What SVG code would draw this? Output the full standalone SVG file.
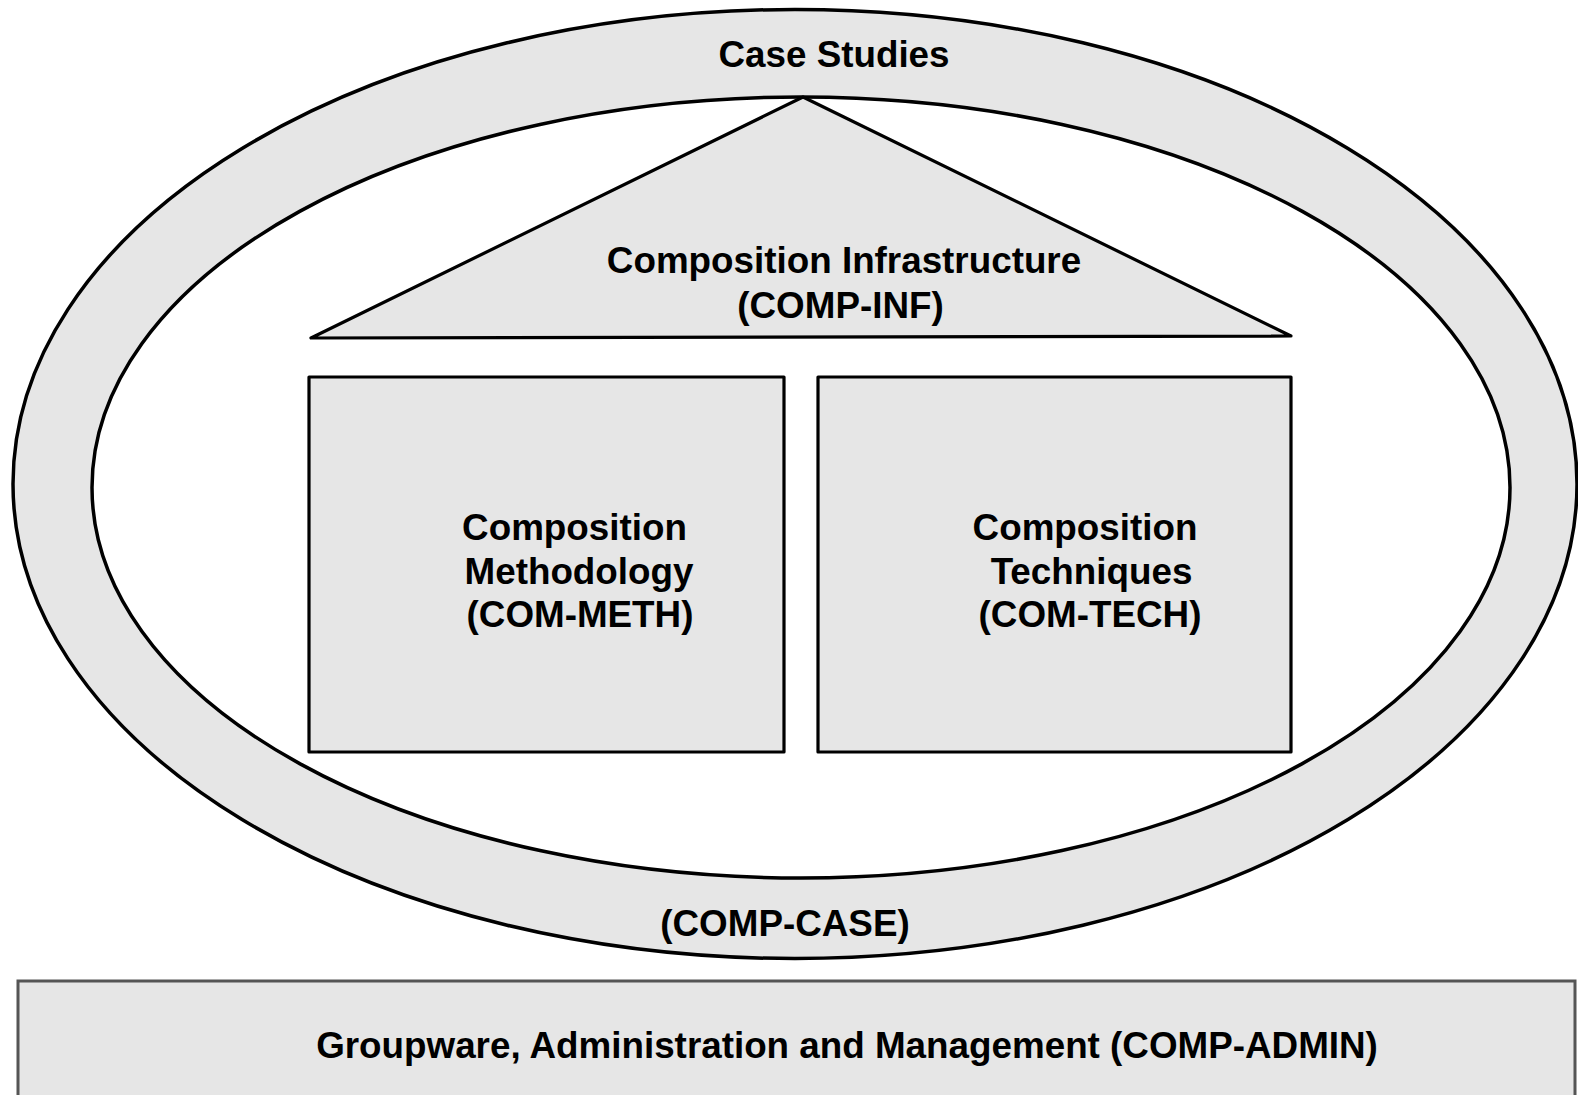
<svg xmlns="http://www.w3.org/2000/svg" width="1578" height="1095" viewBox="0 0 1578 1095">
  <style>
    .shape { fill: #e6e6e6; stroke: #000; stroke-width: 3.2; stroke-linejoin: round; }
    .ring { fill: #e6e6e6; stroke: #000; stroke-width: 3.5; }
    .hole { fill: #ffffff; stroke: #000; stroke-width: 3.5; }
    .admin { fill: #e6e6e6; stroke: #555555; stroke-width: 3; }
    .label { font-family: "Liberation Sans", Arial, Helvetica, sans-serif; font-weight: bold; font-size: 36.8px; fill: #000; text-anchor: middle; }
  </style>
  <rect x="0" y="0" width="1578" height="1095" fill="#ffffff"/>

  <!-- Case studies ring -->
  <g id="comp-case">
    <ellipse class="ring" cx="795" cy="484" rx="782" ry="474.5"/>
    <ellipse class="hole" cx="801" cy="487.5" rx="709" ry="390.5"/>
    <text class="label" x="834" y="67">Case Studies</text>
    <text class="label" x="785" y="936">(COMP-CASE)</text>
  </g>

  <!-- Infrastructure roof -->
  <g id="comp-inf">
    <polygon class="shape" points="803,97 311,338 1291,336"/>
    <text class="label" x="844" y="273">Composition Infrastructure</text>
    <text class="label" x="840.5" y="318">(COMP-INF)</text>
  </g>

  <!-- Methodology pillar -->
  <g id="com-meth">
    <rect class="shape" x="309" y="377" width="475" height="375"/>
    <text class="label" y="540"><tspan x="574.5">Composition</tspan><tspan x="579" y="583.5">Methodology</tspan><tspan x="580" y="627">(COM-METH)</tspan></text>
  </g>

  <!-- Techniques pillar -->
  <g id="com-tech">
    <rect class="shape" x="818" y="377" width="473" height="375"/>
    <text class="label" y="540"><tspan x="1085">Composition</tspan><tspan x="1091.5" y="583.5">Techniques</tspan><tspan x="1090" y="627">(COM-TECH)</tspan></text>
  </g>

  <!-- Administration base -->
  <g id="comp-admin">
    <rect class="admin" x="18" y="981" width="1557" height="130"/>
    <text class="label" x="847" y="1058">Groupware, Administration and Management (COMP-ADMIN)</text>
  </g>
</svg>
